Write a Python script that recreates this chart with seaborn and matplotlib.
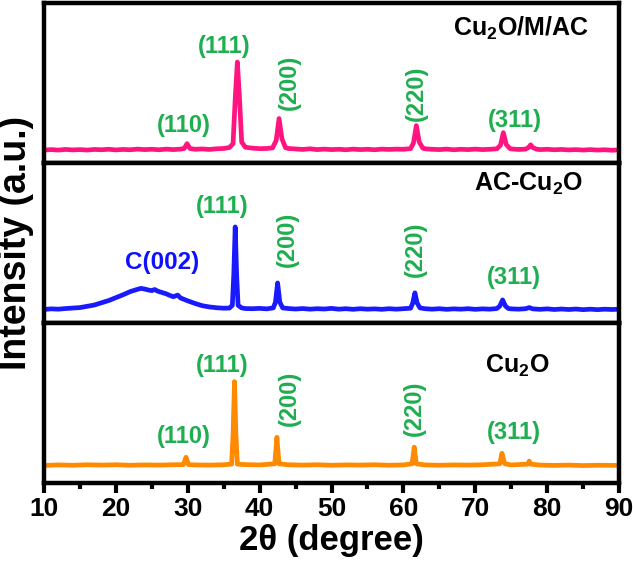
import matplotlib
matplotlib.use("Agg")
import matplotlib.pyplot as plt
import seaborn as sns
import pandas as pd
from matplotlib.ticker import MultipleLocator

# ---------------- data ----------------
# Cu2O/M/AC (top panel)
m_x = [10, 11, 12, 13, 14, 15, 16, 17, 18, 19, 20, 21, 22, 23, 24, 25, 26, 27, 28, 29,
       29.5, 29.9, 30.3, 31, 32, 33, 34, 35, 35.8, 36.3, 36.6, 36.9, 37.2, 37.5, 38, 39,
       40, 41, 41.8, 42.3, 42.7, 43.1, 43.6, 44, 45, 46, 47, 48, 49, 50, 51, 52, 53, 54,
       55, 56, 57, 58, 59, 60, 61, 61.4, 61.8, 62.2, 62.7, 63, 64, 65, 66, 67, 68, 69,
       70, 71, 72, 73, 73.5, 73.9, 74.3, 74.8, 75, 76, 77, 77.4, 77.7, 78.0, 78.5, 79,
       80, 81, 82, 83, 84, 85, 86, 87, 88, 89, 90]
m_y = [8.0, 8.3, 8.0, 8.4, 8.1, 8.3, 8.0, 8.4, 8.2, 8.5, 8.1, 8.4, 8.2, 8.6, 8.3, 8.5, 8.2, 8.6, 8.3, 8.6,
       9.0, 12.0, 9.0, 8.5, 8.7, 8.4, 8.8, 9.0, 9.6, 12.0, 40.0, 63.0, 40.0, 13.0, 9.8, 9.2,
       8.9, 9.0, 9.4, 14.0, 27.7, 15.0, 9.5, 9.0, 8.7, 8.4, 8.8, 8.3, 8.6, 8.3, 8.5, 8.2, 8.6, 8.3,
       8.5, 8.2, 8.6, 8.4, 8.6, 8.5, 8.9, 12.5, 23.3, 13.0, 9.2, 8.8, 8.5, 8.3, 8.6, 8.2, 8.5, 8.3,
       8.6, 8.3, 8.5, 8.8, 11.0, 18.9, 11.5, 9.0, 8.7, 8.4, 8.6, 9.6, 11.3, 9.6, 8.6, 8.3,
       8.5, 8.2, 8.4, 8.1, 8.3, 8.0, 8.3, 8.0, 8.2, 7.9, 8.1]

# AC-Cu2O (middle panel)
a_x = [10, 11, 12, 13, 14, 15, 16, 17, 18, 19, 20, 21, 22, 23, 23.5, 24, 24.5, 25, 25.4, 25.8,
       26, 27, 27.5, 28, 28.6, 29, 30, 31, 32, 33, 34, 35, 35.8, 36.2, 36.4, 36.6, 36.8, 37.0,
       37.5, 38, 39, 40, 41, 41.9, 42.2, 42.5, 42.8, 43.2, 44, 45, 46, 47, 48, 49, 50, 51,
       52, 53, 54, 55, 56, 57, 58, 59, 60, 61, 61.3, 61.6, 61.9, 62.3, 63, 64, 65, 66, 67,
       68, 69, 70, 71, 72, 73, 73.4, 73.8, 74.2, 74.6, 75, 76, 77, 77.5, 78, 79, 80, 81,
       82, 83, 84, 85, 86, 87, 88, 89, 90]
a_y = [8.4, 8.8, 8.6, 9.0, 9.3, 9.6, 10.4, 11.2, 12.6, 14.0, 15.8, 17.6, 19.6, 21.0, 21.6, 21.2, 20.6, 20.2, 20.9, 19.9,
       19.6, 18.2, 17.2, 16.4, 17.4, 15.6, 13.8, 12.2, 10.8, 10.0, 9.5, 9.2, 9.3, 11.0, 30.0, 60.0, 30.0, 11.0,
       9.4, 9.0, 8.9, 9.1, 8.8, 9.4, 13.0, 25.0, 13.0, 9.4, 9.0, 8.7, 9.0, 8.6, 8.9, 8.7, 9.1, 8.6,
       8.9, 8.5, 8.9, 8.6, 8.8, 8.5, 8.9, 8.6, 8.9, 9.2, 12.5, 18.8, 12.5, 9.4, 8.9, 8.6, 8.9, 8.5, 8.8,
       8.6, 8.9, 8.5, 8.8, 8.6, 9.0, 10.5, 14.4, 10.5, 9.0, 8.8, 8.6, 8.9, 9.6, 8.8, 8.5, 8.8, 8.4,
       8.7, 8.4, 8.7, 8.3, 8.6, 8.3, 8.6, 8.4, 8.6]

# Cu2O (bottom panel)
c_x = [10, 12, 14, 16, 18, 20, 22, 24, 26, 28, 29.4, 29.75, 30.1, 31, 33, 35, 36.1, 36.3, 36.5, 36.7,
       36.9, 38, 40, 42.1, 42.25, 42.4, 42.55, 42.7, 44, 46, 48, 50, 52, 54, 56, 58, 60, 61.2,
       61.35, 61.5, 61.65, 61.8, 63, 65, 67, 69, 71, 73.4, 73.6, 73.7, 73.85, 74.1, 75, 77.3, 77.5,
       77.7, 79, 81, 83, 85, 87, 90]
c_y = [11.0, 11.3, 11.1, 11.4, 11.2, 11.4, 11.1, 11.3, 11.2, 11.4, 11.5, 16.1, 11.5, 11.3, 11.2, 11.4, 11.8, 30.0, 63.4, 30.0,
       11.8, 11.5, 11.3, 12.0, 20.0, 28.6, 20.0, 12.0, 11.4, 11.2, 11.4, 11.1, 11.3, 11.2, 11.4, 11.1, 11.3, 12.0,
       17.0, 22.4, 17.0, 12.0, 11.3, 11.1, 11.3, 11.2, 11.4, 12.0, 16.0, 18.6, 16.0, 12.0, 11.3, 11.8, 13.7,
       11.8, 11.2, 11.0, 11.2, 10.9, 11.1, 11.0]

sample_names = ["Cu$_2$O/M/AC", "AC-Cu$_2$O", "Cu$_2$O"]
series_x = [m_x, a_x, c_x]
series_y = [m_y, a_y, c_y]
line_colors = ["#ff1480", "#1a1aff", "#ff8a00"]

# peak labels: (text, x, y, rotation) per panel
peak_labels = [
    [("(110)", 29.5, 23.3, 0), ("(111)", 35.1, 72.5, 0), ("(200)", 44.2, 50.0, 90),
     ("(220)", 61.8, 43.4, 90), ("(311)", 75.5, 26.4, 0)],
    [("(111)", 34.8, 73.0, 0), ("(200)", 43.9, 52.5, 90),
     ("(220)", 61.6, 46.0, 90), ("(311)", 75.3, 28.3, 0)],
    [("(110)", 29.5, 29.2, 0), ("(111)", 34.8, 73.3, 0), ("(200)", 44.1, 52.8, 90),
     ("(220)", 61.5, 46.6, 90), ("(311)", 75.3, 31.3, 0)],
]
name_pos = [(85.7, 84.0), (84.9, 86.9), (80.3, 73.3)]
extra_label = ("C(002)", 26.4, 37.7)

x_ticks = [10, 20, 30, 40, 50, 60, 70, 80, 90]

# ---------------- figure ----------------
sns.set_theme(style="white")
plt.rcParams["font.family"] = ["Liberation Sans", "DejaVu Sans"]
plt.rcParams["font.weight"] = "bold"
plt.rcParams["text.color"] = "black"
plt.rcParams["xtick.color"] = "black"
plt.rcParams["axes.labelcolor"] = "black"
plt.rcParams["mathtext.fontset"] = "custom"
plt.rcParams["mathtext.rm"] = "Liberation Sans:bold"
plt.rcParams["mathtext.it"] = "Liberation Sans:bold"
plt.rcParams["mathtext.bf"] = "Liberation Sans:bold"
plt.rcParams["mathtext.default"] = "rm"

fig = plt.figure(figsize=(6.33, 5.64), dpi=100)
gs = fig.add_gridspec(3, 1, hspace=0, left=0.0695, right=0.978, top=0.995, bottom=0.1436)
axes = [fig.add_subplot(gs[i]) for i in range(3)]

green = "#1fae50"
for i, ax in enumerate(axes):
    df = pd.DataFrame({"x": series_x[i], "y": series_y[i]})
    sns.lineplot(data=df, x="x", y="y", ax=ax, color=line_colors[i], lw=3.4, sort=False,
                 estimator=None)
    ax.set_xlim(10, 90)
    ax.set_ylim(0, 100)
    ax.set_yticks([])
    ax.set_ylabel("")
    ax.set_xlabel("")
    for s in ax.spines.values():
        s.set_linewidth(3.2)
        s.set_color("black")
    for (t, x, y, r) in peak_labels[i]:
        ax.text(x, y, t, color=green, fontsize=17, fontweight="bold", rotation=r,
                ha="center", va="center")
    nx, ny = name_pos[i]
    ax.text(nx, ny, sample_names[i], color="black", fontsize=18, fontweight="bold",
            ha="right", va="center")
    if i < 2:
        ax.tick_params(axis="x", which="both", bottom=False, labelbottom=False)

axes[1].text(extra_label[1], extra_label[2], extra_label[0], color="#1010ff", fontsize=17.5,
             fontweight="bold", ha="center", va="center")

axb = axes[2]
axb.set_xticks(x_ticks)
axb.set_xticklabels([str(t) for t in x_ticks])
axb.xaxis.set_minor_locator(MultipleLocator(5))
axb.tick_params(axis="x", which="major", bottom=True, direction="out", length=7, width=3,
                labelsize=19, pad=3, color="black", labelcolor="black")
axb.tick_params(axis="x", which="minor", bottom=True, direction="out", length=4, width=3,
                color="black")
for lab in axb.get_xticklabels():
    lab.set_fontweight("bold")
axb.set_xlabel("2θ (degree)", fontsize=25, fontweight="bold", labelpad=2, color="black")

fig.text(0.026, 0.57, "Intensity (a.u.)", rotation=90, fontsize=27, fontweight="bold",
         ha="center", va="center", color="black")

fig.savefig("out.png", dpi=100)
